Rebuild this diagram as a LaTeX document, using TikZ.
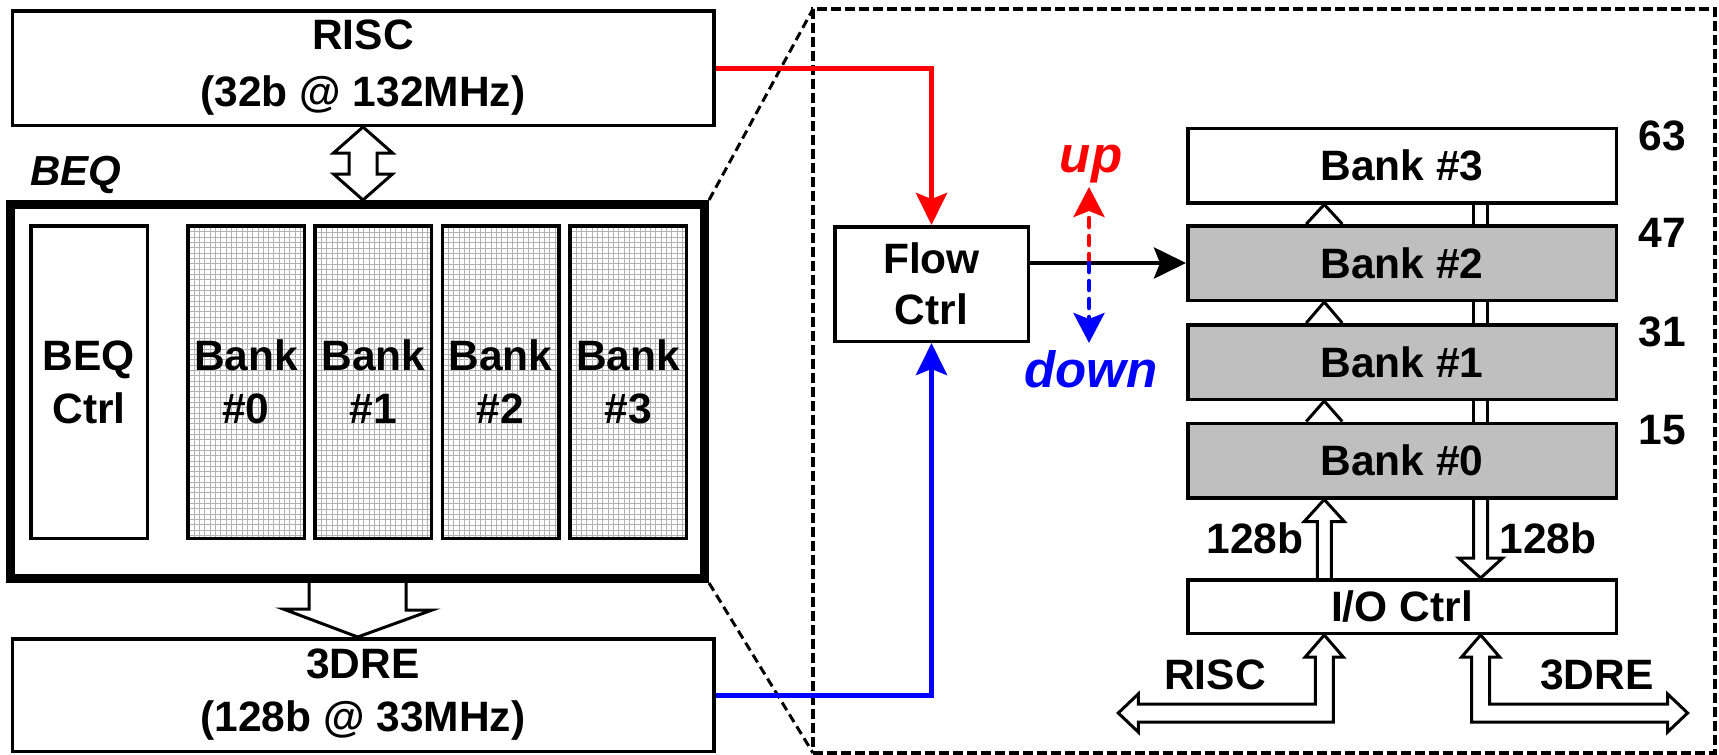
\documentclass[tikz,border=0pt]{standalone}
\usepackage{fontspec}
\setmainfont{Liberation Sans}
\usetikzlibrary{arrows.meta,calc}

\begin{document}
\begin{tikzpicture}[x=1pt,y=-1pt,
    every node/.style={font=\bfseries\fontsize{42.5}{53}\selectfont, align=center, inner sep=0pt},
    blk/.style={draw, line width=3.5pt, fill=white},
    gridcol/.style={blk, minimum width=116.5pt, minimum height=312.5pt,
      path picture={\draw[black!30, line width=1pt, step=5.33pt]
        (path picture bounding box.south west) grid (path picture bounding box.north east);}},
    stackbank/.style={blk, fill=black!25, minimum width=428.5pt, minimum height=74.5pt},
    fat/.style={draw, line width=3pt},
    sig/.style={line width=5pt, -{Stealth[length=32pt,width=31pt,inset=6pt]}},
    dir/.style={line width=4.5pt, line cap=round, dash pattern=on 9pt off 9pt,
      -{Stealth[length=30pt,width=31pt,inset=6pt]}},
    lbl/.style={font=\bfseries\itshape\fontsize{51}{60}\selectfont, anchor=base},
  ]
  \useasboundingbox (0,0) rectangle (1719,755);

  % zoomed detail frame
  \node[draw, line width=3.5pt, dash pattern=on 10pt off 4pt, outer sep=0pt,
        minimum width=902pt, minimum height=744pt] (detail) at (1264,381) {};

  % left side: RISC, BEQ, 3DRE
  \node[blk, minimum width=701.5pt, minimum height=114.5pt,
        font=\bfseries\fontsize{42.5}{57}\selectfont] (risc) at (363,68) {RISC\\(32b @ 132MHz)};
  \node[draw, line width=9pt, minimum width=693.7pt, minimum height=374pt] (beq) at (357.7,391.5) {};
  \node[font=\bfseries\itshape\fontsize{42}{42}\selectfont, anchor=base west] (beqname) at (30,185) {BEQ};
  \node[blk, minimum width=116.5pt, minimum height=312.5pt] (beqctrl) at (89,382) {BEQ\\Ctrl};
  \foreach \i/\x in {0/246,1/373.3,2/500.6,3/628}
    \node[gridcol] (col\i) at (\x,382) {Bank\\\#\i};
  \node[blk, minimum width=701.5pt, minimum height=112.5pt] (dre) at (363,695) {3DRE\\(128b @ 33MHz)};

  \draw[line width=3pt, dash pattern=on 9pt off 5pt]
    (beq.north east) -- (detail.north west)
    (beq.south east) -- (detail.south west);

  % fat arrows RISC <-> BEQ -> 3DRE
  \draw[fat] (risc.south) -- ++(29.5,26) -- ++(-15.5,0) -- ($(risc.south |- beq.north)+(14,-26)$)
    -- ++(15.5,0) -- (risc.south |- beq.north) -- ++(-29.5,-26) -- ++(15.5,0)
    -- ($(risc.south)+(-14,26)$) -- ++(-15.5,0) -- cycle;
  \draw[fat] ($(beq.south)+(-48.5,0)$) -- ++(0,26) -- ++(-26,0) -- (beq.south |- dre.north)
    -- ++(74.5,-27) -- ++(-26,0) -- ($(beq.south)+(48.5,0)$);

  % right side: flow control and bank stack
  \node[blk, minimum width=193.5pt, minimum height=114.5pt,
        font=\bfseries\fontsize{42.5}{51}\selectfont] (flow) at (931.5,284) {Flow\\Ctrl};
  \node[stackbank, fill=white] (b3) at (1402,165.5) {Bank \#3};
  \foreach \i/\y in {2/263,1/362,0/460.5}
    \node[stackbank] (b\i) at (1402,\y) {Bank \#\i};
  \foreach \i/\n in {3/63,2/47,1/31,0/15}
    \node (n\i) at ($(b\i.north east)+(44,9)$) {\n};
  \node[stackbank, fill=white, minimum height=53.5pt] (io) at (1402,606.5) {I/O Ctrl};

  \coordinate (lc) at ($(b0.south west)!.32!(b0.south east)$);
  \coordinate (rc) at ($(b0.south west)!.682!(b0.south east)$);

  \foreach \lo/\hi in {b0/b1,b1/b2,b2/b3} {
    \draw[fat] ($(lc |- \lo.north)+(-18,0)$) -- (lc |- \hi.south) -- ($(lc |- \lo.north)+(18,0)$);
    \draw[fat] ($(rc |- \hi.south)+(-7,0)$) -- ($(rc |- \lo.north)+(-7,0)$)
               ($(rc |- \hi.south)+(7,0)$) -- ($(rc |- \lo.north)+(7,0)$);
  }
  \draw[fat] ($(lc |- io.north)+(-7,0)$) -- ($(lc |- b0.south)+(-7,22)$) -- ++(-13,0)
    -- (lc |- b0.south) -- ++(20,22) -- ++(-13,0) -- ($(lc |- io.north)+(7,0)$);
  \draw[fat] ($(rc |- b0.south)+(-7,0)$) -- ($(rc |- io.north)+(-7,-20)$) -- ++(-15,0)
    -- (rc |- io.north) -- ++(22,-20) -- ++(-15,0) -- ($(rc |- b0.south)+(7,0)$);

  % ports of the I/O controller
  \draw[fat] (lc |- io.south) -- ++(19,22) -- ++(-10,0) -- ++(0,65) -- ++(-195,0) -- ++(0,10)
    -- ++(-20,-19) -- ++(20,-19) -- ++(0,10) -- ++(177,0) -- ++(0,-47) -- ++(-10,0) -- cycle;
  \draw[fat] (rc |- io.south) -- ++(-19,22) -- ++(10,0) -- ++(0,65) -- ++(196,0) -- ++(0,10)
    -- ++(20,-19) -- ++(-20,-19) -- ++(0,10) -- ++(-178,0) -- ++(0,-47) -- ++(10,0) -- cycle;

  \node (wl) at (1255,538) {128b};
  \node (wr) at (1548,538) {128b};
  \node (pr) at (1215,675) {RISC};
  \node (pd) at (1597,675) {3DRE};

  % control signals
  \draw[sig, red] (risc.east) -| (flow.north);
  \draw[sig, blue] (dre.east) -| (flow.south);
  \draw[sig, line width=4.5pt] (flow.east |- b2.west) -- (b2.west);

  \coordinate (ud) at (1089,263);
  \coordinate (uptip) at (1089,187);
  \coordinate (dntip) at (1089,343);
  \draw[dir, red] (ud) -- (uptip);
  \draw[dir, blue] (ud) -- (dntip);
  \node[lbl, text=red] (up) at (1091,172) {up};
  \node[lbl, text=blue] (down) at (1091,387) {down};
\end{tikzpicture}
\end{document}
